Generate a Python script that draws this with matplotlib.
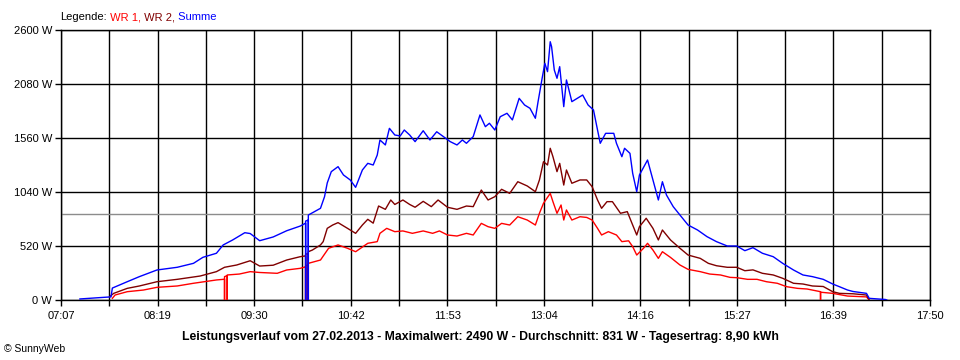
import matplotlib
matplotlib.use('Agg')
import matplotlib.pyplot as plt
import numpy as np

plt.rcParams['font.family'] = ['Liberation Sans', 'DejaVu Sans']
plt.rcParams['font.size'] = 8

# Leistungsverlauf 27.02.2013
# repeated times = short drop-outs to 0 W
summe_t = ['07:21', '07:38', '07:44', '07:45', '07:56', '08:05', '08:18', '08:33', '08:45', '08:52',
           '09:02', '09:07', '09:14', '09:23', '09:27', '09:34', '09:44', '09:54', '10:04', '10:08',
           '10:08', '10:08', '10:10', '10:10', '10:10', '10:19', '10:22', '10:24', '10:27', '10:32',
           '10:36', '10:41', '10:45', '10:50', '10:54', '10:58', '11:01', '11:03', '11:07', '11:10',
           '11:14', '11:18', '11:21', '11:25', '11:29', '11:35', '11:40', '11:45', '11:50', '11:55',
           '12:00', '12:04', '12:07', '12:12', '12:17', '12:21', '12:24', '12:28', '12:32', '12:37',
           '12:41', '12:46', '12:50', '12:54', '12:58', '13:00', '13:03', '13:05', '13:07', '13:09',
           '13:10', '13:12', '13:14', '13:16', '13:19', '13:21', '13:25', '13:29', '13:33', '13:37',
           '13:41', '13:44', '13:46', '13:50', '13:56', '13:58', '14:02', '14:04', '14:08', '14:10',
           '14:13', '14:15', '14:21', '14:25', '14:29', '14:32', '14:35', '14:40', '14:45', '14:51',
           '14:58', '15:05', '15:12', '15:20', '15:27', '15:33', '15:39', '15:46', '15:54', '16:01',
           '16:09', '16:16', '16:23', '16:31', '16:38', '16:43', '16:49', '16:53', '17:03', '17:05',
           '17:17', '17:18']
summe_w = [10, 25, 30, 115, 176, 225, 289, 315, 353, 411,
           450, 530, 578, 648, 640, 571, 607, 667, 712, 740,
           0, 760, 770, 0, 818, 883, 995, 1127, 1236, 1284,
           1204, 1156, 1085, 1252, 1316, 1300, 1396, 1541, 1493, 1653,
           1589, 1580, 1637, 1589, 1525, 1630, 1541, 1620, 1573, 1525,
           1493, 1541, 1509, 1573, 1782, 1669, 1702, 1637, 1765, 1798,
           1734, 1942, 1878, 1846, 1750, 1910, 2135, 2279, 2199, 2487,
           2439, 2215, 2135, 2247, 1862, 2119, 1910, 1942, 1974, 1878,
           1830, 1637, 1509, 1605, 1605, 1509, 1380, 1461, 1412, 1220,
           1043, 1204, 1348, 1156, 963, 1139, 1011, 899, 818, 722,
           674, 610, 562, 520, 520, 475, 504, 450, 417, 353,
           289, 241, 225, 199, 154, 128, 96, 82, 64, 16,
           5, 0]

wr2_t = ['07:43', '07:46', '07:56', '08:05', '08:18', '08:33', '08:50', '09:02', '09:08', '09:17',
         '09:27', '09:34', '09:44', '09:54', '10:04', '10:08', '10:08', '10:08', '10:10', '10:10',
         '10:10', '10:13', '10:19', '10:21', '10:24', '10:28', '10:32', '10:39', '10:45', '10:50',
         '10:54', '10:58', '11:02', '11:07', '11:11', '11:14', '11:20', '11:25', '11:29', '11:35',
         '11:41', '11:46', '11:53', '12:00', '12:07', '12:12', '12:18', '12:23', '12:28', '12:33',
         '12:39', '12:45', '12:52', '12:58', '13:01', '13:04', '13:07', '13:09', '13:11', '13:14',
         '13:16', '13:19', '13:21', '13:25', '13:31', '13:36', '13:40', '13:44', '13:47', '13:51',
         '13:55', '14:01', '14:06', '14:09', '14:13', '14:15', '14:20', '14:25', '14:29', '14:32',
         '14:38', '14:45', '14:51', '15:00', '15:06', '15:12', '15:20', '15:27', '15:33', '15:39',
         '15:46', '15:54', '16:01', '16:09', '16:16', '16:23', '16:31', '16:38', '16:43', '16:53',
         '17:03', '17:05']
wr2_w = [32, 64, 112, 135, 176, 199, 231, 273, 315, 337,
         378, 327, 335, 385, 417, 425, 0, 440, 450, 0,
         465, 481, 530, 562, 690, 722, 745, 690, 642, 722,
         777, 740, 905, 873, 963, 920, 963, 920, 893, 950,
         899, 963, 893, 873, 905, 899, 1059, 963, 995, 1066,
         1027, 1139, 1098, 1043, 1156, 1332, 1300, 1461, 1380, 1236,
         1316, 1107, 1252, 1124, 1156, 1156, 1091, 963, 883, 947,
         947, 835, 851, 754, 626, 706, 787, 690, 578, 674,
         578, 498, 433, 401, 353, 330, 315, 315, 282, 290,
         257, 241, 209, 161, 154, 135, 130, 80, 64, 60,
         48, 0]

wr1_t = ['07:45', '07:47', '07:56', '08:08', '08:18', '08:33', '08:45', '09:02', '09:08', '09:08',
         '09:08', '09:10', '09:10', '09:10', '09:19', '09:27', '09:34', '09:47', '09:54', '10:04',
         '10:08', '10:08', '10:08', '10:10', '10:10', '10:10', '10:19', '10:25', '10:32', '10:39',
         '10:45', '10:54', '11:01', '11:03', '11:08', '11:14', '11:20', '11:27', '11:35', '11:42',
         '11:47', '11:53', '12:00', '12:07', '12:12', '12:18', '12:23', '12:28', '12:33', '12:39',
         '12:45', '12:52', '12:58', '13:01', '13:04', '13:09', '13:11', '13:14', '13:17', '13:19',
         '13:21', '13:25', '13:31', '13:36', '13:40', '13:44', '13:47', '13:52', '13:58', '14:02',
         '14:07', '14:10', '14:13', '14:18', '14:21', '14:25', '14:29', '14:32', '14:38', '14:45',
         '14:51', '15:00', '15:07', '15:15', '15:22', '15:27', '15:35', '15:42', '15:49', '15:57',
         '16:04', '16:12', '16:19', '16:29', '16:29', '16:29', '16:38', '16:49', '17:03', '17:05']
wr1_w = [16, 48, 80, 96, 122, 135, 161, 193, 200, 0,
         225, 235, 0, 241, 250, 273, 265, 257, 289, 305,
         320, 0, 330, 340, 0, 353, 385, 498, 530, 498,
         465, 546, 562, 642, 690, 658, 665, 642, 665, 642,
         665, 626, 616, 642, 626, 738, 706, 690, 738, 722,
         802, 770, 722, 835, 931, 1027, 947, 835, 915, 770,
         867, 770, 802, 795, 770, 690, 626, 658, 626, 562,
         570, 514, 433, 498, 546, 481, 401, 465, 410, 337,
         295, 273, 250, 241, 218, 215, 199, 199, 176, 161,
         128, 112, 106, 80, 0, 75, 64, 38, 30, 0]

durchschnitt = 831
y_ticks = [0, 520, 1040, 1560, 2080, 2600]
y_labels = ['0 W', '520 W', '1040 W', '1560 W', '2080 W', '2600 W']
x_labels = ['07:07', '08:19', '09:30', '10:42', '11:53', '13:04', '14:16', '15:27', '16:39', '17:50']
titel = ('Leistungsverlauf vom 27.02.2013 - Maximalwert: 2490 W - '
         'Durchschnitt: 831 W - Tagesertrag: 8,90 kWh')


def to_min(ts):
    return [int(t[:2]) * 60 + int(t[3:]) for t in ts]


W, H = 960, 360
fig = plt.figure(figsize=(W / 100, H / 100), dpi=100)
ax = fig.add_axes([61 / W, 1 - 300 / H, (930 - 61) / W, (300 - 30) / H])

x0, x1 = to_min([x_labels[0], x_labels[-1]])
ax.set_xlim(x0, x1)
ax.set_ylim(0, 2600)

major = np.linspace(x0, x1, len(x_labels))
minor = (major[:-1] + major[1:]) / 2
ax.set_xticks(major)
ax.set_xticklabels(x_labels)
ax.set_xticks(minor, minor=True)
ax.set_yticks(y_ticks)
ax.set_yticklabels(y_labels)

for v in np.concatenate([major, minor]):
    ax.axvline(v, color='black', lw=1, zorder=1)
for v in y_ticks:
    ax.axhline(v, color='black', lw=1, zorder=1)
ax.axhline(durchschnitt, color='#8c8c8c', lw=1, zorder=1)

ax.plot(to_min(wr1_t), wr1_w, color='#ff0000', lw=1, zorder=3)
ax.plot(to_min(wr2_t), wr2_w, color='#800000', lw=1, zorder=3)
ax.plot(to_min(summe_t), summe_w, color='#0000ff', lw=1, zorder=3)

ax.tick_params(axis='x', which='both', direction='out', length=4, width=1, pad=4, color='black')
ax.tick_params(axis='y', direction='out', length=4.5, width=1, pad=2, color='black')
for s in ax.spines.values():
    s.set_color('black')
    s.set_linewidth(1)

fig.text(480 / W, 1 - 337 / H, titel, ha='center', va='center', fontweight='bold', fontsize=8.8)
fig.text(4 / W, 1 - 349 / H, '\u00a9 SunnyWeb', ha='left', va='center', fontsize=7.5)

# Legende with coloured parts
fig.canvas.draw()
r = fig.canvas.get_renderer()
lx = 60 / W
for txt, col in [('Legende:', 'black'), (' WR 1,', '#ff0000'), (' WR 2,', '#800000'), (' Summe', '#0000ff')]:
    t = fig.text(lx, 1 - 17 / H, txt, color=col, ha='left', va='center')
    lx += t.get_window_extent(renderer=r).width / fig.bbox.width

plt.savefig('out.png', dpi=100)
